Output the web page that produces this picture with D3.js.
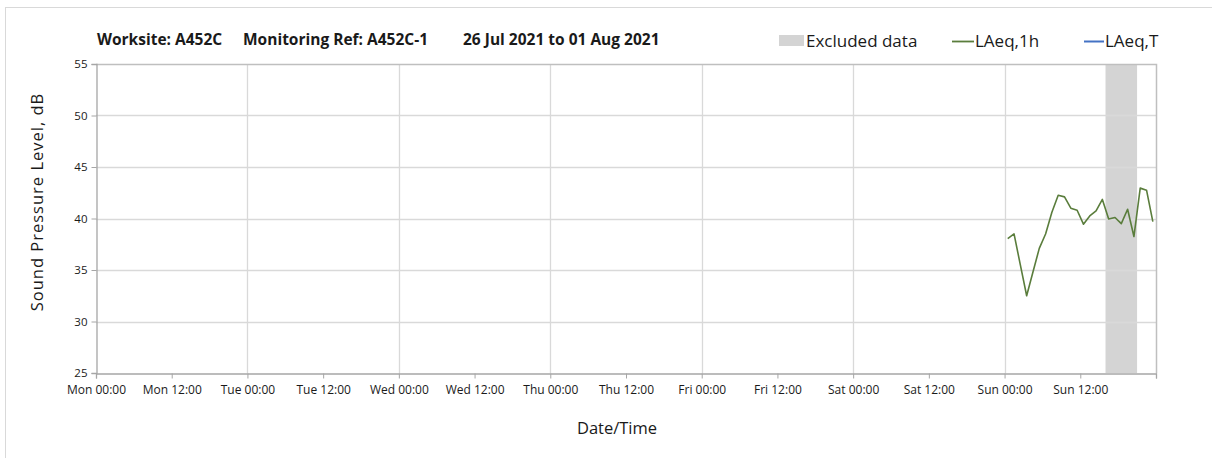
<!DOCTYPE html>
<html>
<head>
<meta charset="utf-8">
<script src="https://cdn.jsdelivr.net/npm/d3@7"></script>
<style>
  html, body { margin: 0; padding: 0; background: #fff; }
  svg { display: block; }
  text { font-family: "Open Sans", "Noto Sans", sans-serif; fill: #1a1a1a; }
</style>
</head>
<body>
<svg id="chart" width="1212" height="458"></svg>
<script>
// Hourly LAeq values (dB), each centred on the half hour, Sun 01 Aug 2021
const hourStart = new Date(Date.UTC(2021, 7, 1, 0, 30));
const laeq1h = [38.05, 38.5, 35.5, 32.5, 34.8, 37.1, 38.5, 40.6, 42.25, 42.1, 41.0, 40.8,
                39.45, 40.25, 40.75, 41.85, 39.95, 40.1, 39.5, 40.9, 38.25, 42.95, 42.75, 39.7];
const laeqT = [];   // no period values in this week

// Excluded period (start, end)
const excluded = [[new Date(Date.UTC(2021, 7, 1, 16)), new Date(Date.UTC(2021, 7, 1, 21))]];

const weekStart = new Date(Date.UTC(2021, 6, 26, 0));
const weekEnd = new Date(Date.UTC(2021, 7, 2, 0));
const yTicks = [25, 30, 35, 40, 45, 50, 55];
const xTickLabels = ["Mon 00:00", "Mon 12:00", "Tue 00:00", "Tue 12:00", "Wed 00:00", "Wed 12:00",
                     "Thu 00:00", "Thu 12:00", "Fri 00:00", "Fri 12:00", "Sat 00:00", "Sat 12:00",
                     "Sun 00:00", "Sun 12:00", ""];

const titleParts = ["Worksite: A452C", "Monitoring Ref: A452C-1", "26 Jul 2021 to 01 Aug 2021"];
const legendItems = ["Excluded data", "LAeq,1h", "LAeq,T"];

const svg = d3.select("#chart");
const m = { left: 96, right: 1156, top: 64, bottom: 373 };

const x = d3.scaleUtc().domain([weekStart, weekEnd]).range([m.left, m.right]);
const y = d3.scaleLinear().domain([25, 55]).range([m.bottom, m.top]);

// faint outer frame
svg.append("rect").attr("x", 5.5).attr("y", 7.5).attr("width", 1220).attr("height", 460)
  .attr("fill", "none").attr("stroke", "#d9d9d9");

const tickTimes = d3.range(15).map(i => new Date(weekStart.getTime() + i * 12 * 3600e3));
const dayTimes = tickTimes.filter((d, i) => i % 2 === 0 && i > 0 && i < 14);

// excluded shading
svg.append("g").selectAll("rect").data(excluded).join("rect")
  .attr("x", d => x(d[0])).attr("width", d => x(d[1]) - x(d[0]))
  .attr("y", m.top).attr("height", m.bottom - m.top)
  .attr("fill", "#d4d4d4");

// gridlines
const grid = svg.append("g").attr("stroke", "#d9d9d9").attr("stroke-width", 1.3);
grid.selectAll("line.h").data(yTicks.filter(v => v > 25 && v < 55)).join("line")
  .attr("x1", m.left).attr("x2", m.right)
  .attr("y1", d => Math.round(y(d)) + 0.5).attr("y2", d => Math.round(y(d)) + 0.5);
grid.selectAll("line.v").data(dayTimes).join("line")
  .attr("x1", d => Math.round(x(d)) + 0.5).attr("x2", d => Math.round(x(d)) + 0.5)
  .attr("y1", m.top).attr("y2", m.bottom);

// plot frame (top and right)
svg.append("path")
  .attr("d", `M${m.left},${m.top + 0.5}H${m.right + 0.5}V${m.bottom}`)
  .attr("fill", "none").attr("stroke", "#bfbfbf").attr("stroke-width", 1.5);

// y axis
const yAxis = svg.append("g").attr("transform", `translate(${m.left + 0.5},0)`)
  .call(d3.axisLeft(y).tickValues(yTicks).tickSize(5).tickPadding(4).tickFormat(d3.format("d")));
yAxis.select(".domain").attr("stroke", "#a6a6a6").attr("stroke-width", 1.3);
yAxis.selectAll(".tick line").attr("stroke", "#a6a6a6");
yAxis.selectAll(".tick text").style("font-size", "11.5px").attr("fill", "#1a1a1a");

// x axis
const xAxis = svg.append("g").attr("transform", `translate(0,${m.bottom + 0.5})`)
  .call(d3.axisBottom(x).tickValues(tickTimes).tickSize(5).tickPadding(7)
    .tickFormat((d, i) => xTickLabels[i]));
xAxis.select(".domain").attr("stroke", "#a6a6a6").attr("stroke-width", 1.3);
xAxis.selectAll(".tick line").attr("stroke", "#a6a6a6");
xAxis.selectAll(".tick text").style("font-size", "12px").attr("fill", "#1a1a1a");

// LAeq,1h line
const pts = laeq1h.map((v, i) => [new Date(hourStart.getTime() + i * 3600e3), v]);
svg.append("path").datum(pts)
  .attr("fill", "none").attr("stroke", "#5a7d3c").attr("stroke-width", 1.6)
  .attr("stroke-linejoin", "round")
  .attr("d", d3.line().x(d => x(d[0])).y(d => y(d[1])));

// LAeq,T line (empty)
svg.append("path").datum(laeqT)
  .attr("fill", "none").attr("stroke", "#4472c4").attr("stroke-width", 1.6)
  .attr("d", d3.line().x(d => x(d[0])).y(d => y(d[1])));

// axis titles
svg.append("text").attr("x", 617).attr("y", 434).attr("text-anchor", "middle")
  .style("font-size", "16.5px").text("Date/Time");
svg.append("text").attr("transform", "translate(43,202) rotate(-90)").attr("text-anchor", "middle")
  .style("font-size", "16.5px").style("letter-spacing", "1px").text("Sound Pressure Level, dB");

// title
const titleX = [97, 243, 463];
svg.append("g").selectAll("text").data(titleParts).join("text")
  .attr("x", (d, i) => titleX[i]).attr("y", 45)
  .style("font-size", "15.5px").style("font-weight", "bold").text(d => d);

// legend
const lg = svg.append("g").style("font-size", "17px");
lg.append("rect").attr("x", 779).attr("y", 35).attr("width", 25).attr("height", 11).attr("fill", "#d4d4d4");
lg.append("text").attr("x", 806).attr("y", 47).text(legendItems[0]);
lg.append("line").attr("x1", 952).attr("x2", 974).attr("y1", 41.5).attr("y2", 41.5)
  .attr("stroke", "#5a7d3c").attr("stroke-width", 1.8);
lg.append("text").attr("x", 975).attr("y", 47).text(legendItems[1]);
lg.append("line").attr("x1", 1084).attr("x2", 1104).attr("y1", 41.5).attr("y2", 41.5)
  .attr("stroke", "#4472c4").attr("stroke-width", 2);
lg.append("text").attr("x", 1105).attr("y", 47).text(legendItems[2]);
</script>
</body>
</html>
